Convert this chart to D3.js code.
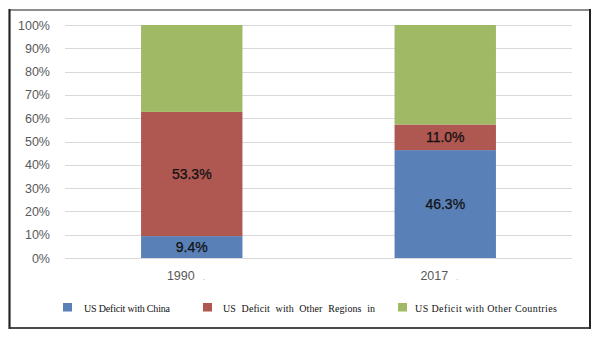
<!DOCTYPE html>
<html>
<head>
<meta charset="utf-8">
<script src="https://cdnjs.cloudflare.com/ajax/libs/d3/7.8.5/d3.min.js"></script>
<style>
  html, body { margin: 0; padding: 0; background: #fff; }
  svg { display: block; }
</style>
</head>
<body>
<svg id="chart" width="600" height="339"></svg>
<script>
// Share of the US trade deficit, by partner, in two years
const years = ["1990", "2017"];
const seriesNames = [
  "US Deficit with China",
  "US Deficit with Other Regions in",
  "US Deficit with Other Countries"
];
const chinaShare = [9.4, 46.3];
const otherRegionsShare = [53.3, 11.0];
const otherCountriesShare = [37.3, 42.7];
const yTicks = [0, 10, 20, 30, 40, 50, 60, 70, 80, 90, 100];
const colors = ["#5A80B8", "#AF5751", "#A0B964"];

const svg = d3.select("#chart");

// Frame around the whole chart
svg.append("rect").attr("x", 9.5).attr("y", 10).attr("width", 580.5).attr("height", 318)
  .attr("fill", "none").attr("stroke", "#6a6a6a").attr("stroke-width", 1.5);
svg.append("line").attr("x1", 9.5).attr("x2", 9.5).attr("y1", 9).attr("y2", 329)
  .attr("stroke", "#222").attr("stroke-width", 2);
svg.append("line").attr("x1", 590).attr("x2", 590).attr("y1", 9).attr("y2", 329)
  .attr("stroke", "#222").attr("stroke-width", 2);
svg.append("line").attr("x1", 9).attr("x2", 591).attr("y1", 328).attr("y2", 328)
  .attr("stroke", "#333").attr("stroke-width", 1.5);

const plot = { left: 65, right: 572, top: 25, bottom: 258 };

const x = d3.scaleBand().domain(years)
  .range([plot.left, plot.right])
  .paddingInner(0.6).paddingOuter(0.3);
const y = d3.scaleLinear().domain([0, 100]).range([plot.bottom, plot.top]);

// Gridlines
svg.append("g").selectAll("line").data(yTicks).join("line")
  .attr("x1", plot.left).attr("x2", plot.right)
  .attr("y1", d => Math.round(y(d)) + 0.5).attr("y2", d => Math.round(y(d)) + 0.5)
  .attr("stroke", "#d9d9d9").attr("stroke-width", 1);

// Y axis labels
const yAxis = d3.axisLeft(y).tickValues(yTicks).tickFormat(d => d + "%").tickSize(0).tickPadding(0);
const yg = svg.append("g").attr("transform", `translate(50,0)`).call(yAxis);
yg.select(".domain").remove();
yg.selectAll("text")
  .attr("fill", "#595959")
  .style("font-family", "'Liberation Sans', Arial, sans-serif")
  .style("font-size", "12.5px");

// Stacked bars
const rows = years.map((yr, i) => ({
  year: yr,
  china: chinaShare[i],
  regions: otherRegionsShare[i],
  countries: otherCountriesShare[i]
}));
const keys = ["china", "regions", "countries"];
const stacked = d3.stack().keys(keys)(rows);

const layers = svg.append("g").selectAll("g").data(stacked).join("g")
  .attr("fill", (d, i) => colors[i]);
layers.selectAll("rect").data(d => d).join("rect")
  .attr("x", d => x(d.data.year))
  .attr("width", x.bandwidth())
  .attr("y", d => y(d[1]))
  .attr("height", d => y(d[0]) - y(d[1]));

// Value labels on the China and Other Regions segments
const labelled = stacked.slice(0, 2);
svg.append("g").selectAll("g").data(labelled).join("g")
  .selectAll("text").data(d => d).join("text")
  .attr("x", d => x(d.data.year) + x.bandwidth() / 2)
  .attr("y", d => (y(d[0]) + y(d[1])) / 2)
  .attr("dy", "0.36em")
  .attr("text-anchor", "middle")
  .attr("fill", "#111")
  .style("font-family", "'Liberation Sans', Arial, sans-serif")
  .style("font-size", "14px")
  .style("stroke", "#111").style("stroke-width", "0.25px")
  .text(d => (d[1] - d[0]).toFixed(1) + "%");

// Category axis labels
const xAxis = d3.axisBottom(x).tickSize(0).tickPadding(0);
const xg = svg.append("g").attr("transform", `translate(-6,${plot.bottom + 13})`).call(xAxis);
xg.select(".domain").remove();
xg.selectAll("text")
  .attr("fill", "#595959")
  .style("font-family", "'Liberation Sans', Arial, sans-serif")
  .style("font-size", "12.5px")
  .append("tspan").attr("dx", 8).attr("font-size", "7px").attr("fill", "#888").text(".");

// Legend
const legendX = [63, 203, 398];
const legendTextX = [21, 20, 17];
const legendTextLen = [86, 152, 142];
const legend = svg.append("g").selectAll("g").data(seriesNames).join("g")
  .attr("transform", (d, i) => `translate(${legendX[i]},303)`);
legend.append("rect").attr("width", 9).attr("height", 8.5)
  .attr("fill", (d, i) => colors[i]);
legend.append("text")
  .attr("x", (d, i) => legendTextX[i])
  .attr("y", 8.5)
  .attr("fill", "#111")
  .attr("textLength", (d, i) => legendTextLen[i])
  .attr("lengthAdjust", "spacing")
  .style("font-family", "'Liberation Serif', 'Times New Roman', serif")
  .style("font-size", "10px")
  .style("word-spacing", (d, i) => i === 1 ? "3px" : "0px")
  .text(d => d);
</script>
</body>
</html>
